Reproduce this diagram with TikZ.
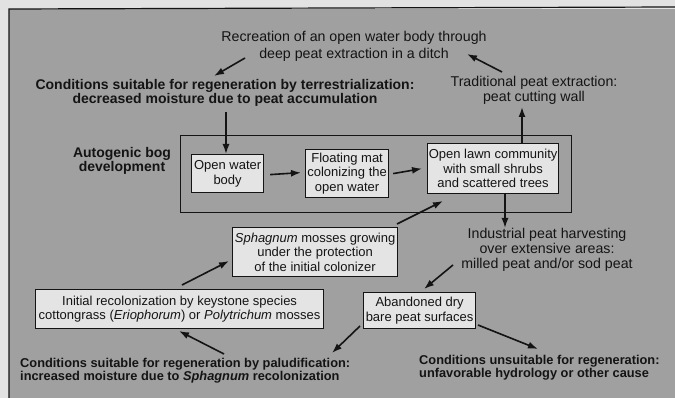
\documentclass[tikz,border=0pt]{standalone}
\usepackage{fontspec}
\setmainfont{Liberation Sans}
\usetikzlibrary{arrows.meta}
\definecolor{bgout}{RGB}{226,226,226}
\definecolor{bgin}{RGB}{160,160,160}
\definecolor{boxfill}{RGB}{228,228,228}
\definecolor{ink}{RGB}{20,20,20}
\begin{document}
\begin{tikzpicture}[x=1pt,y=-1pt,
  every node/.style={font=\fontsize{13}{14.5}\selectfont, text=ink, inner sep=0pt, align=center},
  bx/.style={draw=ink, line width=1.2pt, fill=boxfill, anchor=north west},
  lbl/.style={font=\fontsize{14.2}{14.8}\selectfont},
  blbl/.style={font=\fontsize{14}{13.5}\selectfont\bfseries},
  sblbl/.style={font=\fontsize{12.8}{13}\selectfont\bfseries, align=left, anchor=west},
  arr/.style={draw=ink, line width=1.6pt, -{Latex[length=10pt,width=7pt]}}]
\useasboundingbox (0,0) rectangle (675,398);
\fill[bgout] (0,0) rectangle (675,398);
\fill[bgin] (9,9) rectangle (676,399);
\draw[ink, line width=1.2pt] (9,399) -- (9,9) -- (676,7);
% big box
\node[draw=ink, line width=1.2pt, anchor=north west, minimum width=391pt, minimum height=77pt] (bog) at (180,135) {};
\node[blbl] (auto) at (122,161) {Autogenic bog\\development};
% boxes
\node[bx, minimum width=72pt, minimum height=38pt] (ow) at (191,154) {Open water\\body};
\node[bx, minimum width=83pt, minimum height=48pt] (fm) at (305,149) {Floating mat\\colonizing the\\open water};
\node[bx, minimum width=131pt, minimum height=50pt] (ol) at (427,143) {Open lawn community\\with small shrubs\\and scattered trees};
\node[bx, minimum width=165pt, minimum height=49pt] (sp) at (232,227) {\textit{Sphagnum} mosses growing\\under the protection\\of the initial colonizer};
\node[bx, minimum width=288pt, minimum height=39pt] (ir) at (35,289) {Initial recolonization by keystone species\\cottongrass (\textit{Eriophorum}) or \textit{Polytrichum} mosses};
\node[bx, minimum width=112pt, minimum height=36pt] (ab) at (363,292) {Abandoned dry\\bare peat surfaces};
% labels
\node[lbl, font=\fontsize{14.2}{17}\selectfont] (rec) at (354,46) {Recreation of an open water body through\\deep peat extraction in a ditch};
\node[blbl] (cterr) at (225,93) {Conditions suitable for regeneration by terrestrialization:\\decreased moisture due to peat accumulation};
\node[lbl] (trad) at (534,90) {Traditional peat extraction:\\peat cutting wall};
\node[lbl] (ind) at (547,250) {Industrial peat harvesting\\over extensive areas:\\milled peat and/or sod peat};
\node[sblbl] (cpal) at (20,371) {Conditions suitable for regeneration by paludification:\\increased moisture due to \textit{Sphagnum} recolonization};
\node[sblbl] (cuns) at (419,368) {Conditions unsuitable for regeneration:\\unfavorable hydrology or other cause};
% connector endpoints
\coordinate (a1s) at (245,58); \coordinate (a1e) at (214,76);
\coordinate (a2s) at (502,72); \coordinate (a2e) at (467,54);
\coordinate (a3s) at (226,112);
\coordinate (a4s) at (522,135); \coordinate (a4e) at (522,107);
\coordinate (a5s) at (505,193); \coordinate (a5e) at (505,228);
\coordinate (a6s) at (453,265); \coordinate (a6e) at (424,289);
\coordinate (a7s) at (360,326); \coordinate (a7e) at (332,353);
\coordinate (a8s) at (478,325); \coordinate (a8e) at (538,349);
\coordinate (a9s) at (224,354); \coordinate (a9e) at (179,331);
\coordinate (a10s) at (182,285); \coordinate (a10e) at (229,261);
\coordinate (a11s) at (397,224); \coordinate (a11e) at (443,201);
% arrows
\draw[arr] (a1s) -- (a1e);
\draw[arr] (a2s) -- (a2e);
\draw[arr] (a3s) -- (ow.north -| a3s);
\draw[arr] (ol.north -| a4s) -- (a4e);
\draw[arr] (ow.east) ++(6,1) -- ([xshift=-4pt,yshift=1pt]fm.west);
\draw[arr] ([xshift=4pt]fm.east) -- ([xshift=-5pt]ol.west);
\draw[arr] (a5s) -- (a5e);
\draw[arr] (a6s) -- (a6e);
\draw[arr] (a7s) -- (a7e);
\draw[arr] (a8s) -- (a8e);
\draw[arr] (a9s) -- (a9e);
\draw[arr] (a10s) -- (a10e);
\draw[arr] (a11s) -- (a11e);
\end{tikzpicture}
\end{document}
